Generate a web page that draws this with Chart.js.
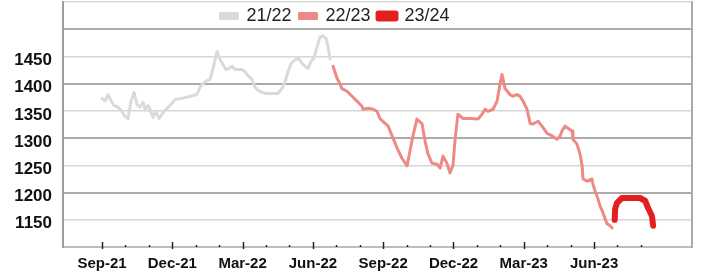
<!DOCTYPE html>
<html>
<head>
<meta charset="utf-8">
<script src="https://cdn.jsdelivr.net/npm/chart.js@4.4.0/dist/chart.umd.min.js"></script>
<style>
  body { margin: 0; background: #fff; }
  #wrap { width: 706px; height: 280px; position: relative; }
</style>
</head>
<body>
<div id="wrap"><canvas id="priceChart"></canvas></div>
<script>
// ====== DATA ======
const seasons = ['21/22', '22/23', '23/24'];
// x = months since Sep-21
const months2122 = [0, 0.13, 0.26, 0.38, 0.51, 0.68, 0.85, 0.98, 1.11, 1.24, 1.37, 1.49, 1.62, 1.75, 1.84, 1.96, 2.05, 2.18, 2.30, 2.43, 2.56, 2.69, 2.90, 3.12, 3.41, 3.76, 4.05, 4.18, 4.31, 4.48, 4.61, 4.74, 4.91, 5.04, 5.16, 5.29, 5.42, 5.55, 5.68, 5.80, 5.98, 6.10, 6.23, 6.40, 6.53, 6.66, 6.83, 7.00, 7.26, 7.51, 7.68, 7.81, 7.94, 8.07, 8.24, 8.41, 8.54, 8.66, 8.79, 8.92, 9.05, 9.18, 9.30, 9.43, 9.56, 9.65, 9.73];
const price2122 = [1373, 1368, 1380, 1369, 1360, 1357, 1349, 1340, 1336, 1368, 1384, 1362, 1357, 1366, 1353, 1360, 1353, 1338, 1349, 1336, 1344, 1351, 1360, 1371, 1373, 1377, 1380, 1393, 1400, 1406, 1408, 1428, 1459, 1444, 1435, 1426, 1428, 1432, 1426, 1426, 1426, 1422, 1415, 1408, 1393, 1388, 1384, 1382, 1382, 1382, 1391, 1404, 1422, 1437, 1444, 1446, 1437, 1432, 1428, 1441, 1448, 1468, 1485, 1488, 1483, 1468, 1446];
const months2223 = [9.86, 10.03, 10.16, 10.24, 10.46, 10.67, 10.88, 11.10, 11.14, 11.35, 11.57, 11.74, 11.86, 12.08, 12.21, 12.38, 12.59, 12.80, 13.02, 13.14, 13.27, 13.44, 13.66, 13.79, 13.91, 14.08, 14.30, 14.43, 14.55, 14.72, 14.85, 14.98, 15.07, 15.19, 15.41, 15.71, 16.05, 16.22, 16.35, 16.47, 16.69, 16.86, 16.99, 17.07, 17.20, 17.41, 17.54, 17.71, 17.84, 17.97, 18.14, 18.27, 18.39, 18.61, 18.78, 18.99, 19.21, 19.42, 19.55, 19.63, 19.76, 19.89, 20.06, 20.10, 20.27, 20.40, 20.49, 20.53, 20.70, 20.91, 20.95, 21.04, 21.17, 21.25, 21.38, 21.47, 21.55, 21.68, 21.77];
const price2223 = [1432, 1410, 1399, 1391, 1386, 1377, 1368, 1358, 1353, 1355, 1353, 1349, 1336, 1327, 1322, 1304, 1282, 1263, 1249, 1276, 1304, 1335, 1326, 1294, 1271, 1254, 1252, 1245, 1267, 1254, 1236, 1250, 1298, 1344, 1336, 1336, 1335, 1344, 1353, 1349, 1353, 1368, 1400, 1417, 1391, 1380, 1377, 1380, 1377, 1368, 1353, 1327, 1326, 1331, 1322, 1309, 1304, 1298, 1304, 1313, 1322, 1318, 1313, 1298, 1289, 1271, 1249, 1225, 1221, 1225, 1216, 1203, 1188, 1176, 1163, 1152, 1143, 1139, 1135];
const months2324 = [21.88, 21.90, 21.98, 22.19, 22.41, 22.62, 22.83, 22.96, 23.18, 23.30, 23.47, 23.52];
const price2324 = [1150, 1170, 1181, 1190, 1190, 1190, 1190, 1190, 1185, 1172, 1157, 1139];

const monthTicks = [0, 1, 2, 3, 4, 5, 6, 7, 8, 9, 10, 11, 12, 13, 14, 15, 16, 17, 18, 19, 20, 21, 22, 23];
const xTickLabels = ['Sep-21', 'Dec-21', 'Mar-22', 'Jun-22', 'Sep-22', 'Dec-22', 'Mar-23', 'Jun-23'];
const yTickLabels = [1150, 1200, 1250, 1300, 1350, 1400, 1450];
// ==================

const FONT = '"Liberation Sans", Arial, sans-serif';

function toPoints(xs, ys) {
    return xs.map((x, i) => ({ x: x, y: ys[i] }));
}

// keep the plot box where the picture has it
function noEdgePadding(scale) {
    scale.paddingTop = 0;
    scale.paddingBottom = 0;
    scale.paddingLeft = 0;
    scale.paddingRight = 0;
}

// small tick marks on the x axis, pointing into the plot
const monthTickMarks = {
    id: 'monthTickMarks',
    afterDraw(chart) {
        const { ctx, chartArea } = chart;
        const x = chart.scales.x;
        ctx.save();
        ctx.strokeStyle = '#222';
        ctx.lineWidth = 1.5;
        x.ticks.forEach(t => {
            const px = Math.round(x.getPixelForValue(t.value)) + 0.5;
            const major = t.value % 3 === 0;
            ctx.beginPath();
            ctx.moveTo(px, chartArea.bottom - (major ? 5 : 2));
            ctx.lineTo(px, chartArea.bottom + (major ? 2 : 0));
            ctx.stroke();
        });
        ctx.restore();
    }
};

// legend sits inside the plot, on top of the grid
const legendInside = {
    id: 'legendInside',
    beforeLayout(chart) {
        const lg = chart.legend;
        if (lg && !lg._wrapped) {
            const fit = lg.fit;
            lg.fit = function () {
                fit.call(this);
                this._realHeight = this.height;
                this.height = 0;
            };
            lg._wrapped = true;
        }
    },
    afterLayout(chart) {
        const lg = chart.legend;
        lg.top = chart.chartArea.top - 3;
        lg.height = lg._realHeight;
        lg.bottom = lg.top + lg.height;
        lg.left -= 18;
        lg.right -= 18;
    }
};

const ctx = document.getElementById('priceChart').getContext('2d');
new Chart(ctx, {
    type: 'line',
    data: {
        datasets: [{
            label: seasons[0],
            data: toPoints(months2122, price2122),
            borderColor: '#dadada',
            backgroundColor: '#dadada',
            borderWidth: 3
        }, {
            label: seasons[1],
            data: toPoints(months2223, price2223),
            borderColor: '#ee8a85',
            backgroundColor: '#ee8a85',
            borderWidth: 3
        }, {
            label: seasons[2],
            data: toPoints(months2324, price2324),
            borderColor: '#e3201e',
            backgroundColor: '#e3201e',
            borderWidth: 6
        }]
    },
    options: {
        responsive: true,
        maintainAspectRatio: false,
        animation: false,
        elements: {
            point: { radius: 0 },
            line: { tension: 0, borderJoinStyle: 'round', borderCapStyle: 'round' }
        },
        layout: { padding: { left: 14, right: 14, top: 2, bottom: 7 } },
        scales: {
            x: {
                type: 'linear',
                min: -1.665,
                max: 25.18,
                afterBuildTicks: scale => { scale.ticks = monthTicks.map(v => ({ value: v })); },
                afterFit: scale => { noEdgePadding(scale); scale.height = 26; },
                grid: { display: false, drawTicks: false },
                border: { display: true, color: '#bdbdbd', width: 2 },
                ticks: {
                    autoSkip: false,
                    maxRotation: 0,
                    padding: 8,
                    color: '#111',
                    font: { family: FONT, size: 15, weight: 'bold' },
                    callback: value => (value % 3 === 0 ? xTickLabels[value / 3] : '')
                }
            },
            y: {
                min: 1100,
                max: 1550,
                afterFit: scale => { noEdgePadding(scale); scale.width = 49; },
                ticks: {
                    stepSize: 50,
                    padding: 11,
                    labelOffset: 4,
                    color: '#111',
                    font: { family: FONT, size: 17, weight: 'bold' },
                    callback: value => (yTickLabels.includes(value) ? String(value) : '')
                },
                grid: {
                    drawTicks: false,
                    color: c => (c.tick.value === 1100 ? 'rgba(0,0,0,0)' : (c.tick.value % 100 === 0 ? '#ababab' : '#d6d6d6')),
                    lineWidth: c => (c.tick.value % 100 === 0 ? 2 : 1.5)
                },
                border: { color: '#9e9e9e', width: 2 }
            },
            yRight: {
                position: 'right',
                min: 1100,
                max: 1550,
                afterFit: scale => { noEdgePadding(scale); scale.width = 0; },
                ticks: { display: false },
                grid: { display: false, drawTicks: false },
                border: { display: true, color: '#aaaaaa', width: 2 }
            }
        },
        plugins: {
            legend: {
                display: true,
                position: 'top',
                labels: {
                    boxWidth: 17,
                    boxHeight: 5,
                    padding: 8,
                    color: '#222',
                    font: { family: FONT, size: 18 }
                }
            },
            tooltip: { enabled: false }
        }
    },
    plugins: [monthTickMarks, legendInside]
});
</script>
</body>
</html>
